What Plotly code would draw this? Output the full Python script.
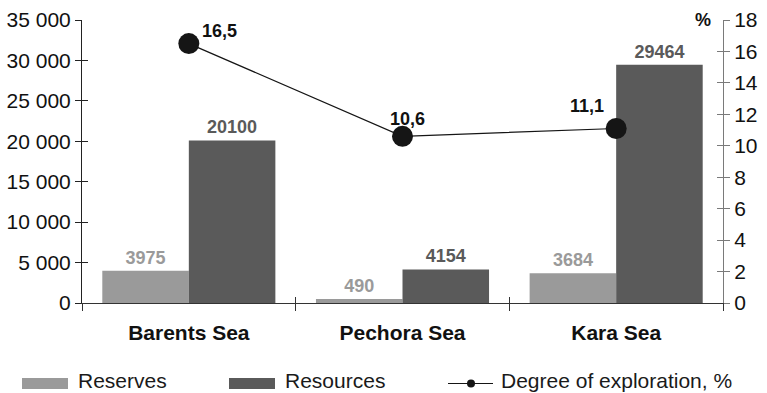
import plotly.graph_objects as go

# Data
categories = ["Barents Sea", "Pechora Sea", "Kara Sea"]
reserves = [3975, 490, 3684]
resources = [20100, 4154, 29464]
exploration_pct = [16.5, 10.6, 11.1]

legend_names = ["Reserves", "Resources", "Degree of exploration, %"]

# Styling
FONT = "Liberation Sans, Arial, Helvetica, sans-serif"
C_RES = "#9a9a9a"
C_RSC = "#5a5a5a"
C_LINE = "#151515"
W, H = 767, 393
ML, MR, MT, MB = 82, 44, 20, 90
PW, PH = W - ML - MR, H - MT - MB
# label offsets (px) for the exploration-degree point labels
PCT_LABEL_SHIFT = [(31, 13), (5, 17), (-29, 22)]


def px_x(px):
    return (px - ML) / PW


def px_y(py):
    return (H - MB - py) / PH


fig = go.Figure()

fig.add_trace(go.Bar(
    x=categories, y=reserves, name=legend_names[0],
    marker=dict(color=C_RES, line=dict(width=0)),
    text=reserves, texttemplate="%{y:d}", textposition="outside",
    textfont=dict(family=FONT, size=18, color=C_RES, weight="bold"),
    cliponaxis=False, showlegend=False,
))
fig.add_trace(go.Bar(
    x=categories, y=resources, name=legend_names[1],
    marker=dict(color=C_RSC, line=dict(width=0)),
    text=resources, texttemplate="%{y:d}", textposition="outside",
    textfont=dict(family=FONT, size=18, color=C_RSC, weight="bold"),
    cliponaxis=False, showlegend=False,
))
fig.add_trace(go.Scatter(
    x=categories, y=exploration_pct, yaxis="y2", name=legend_names[2],
    mode="lines+markers",
    line=dict(color=C_LINE, width=1.2),
    marker=dict(color=C_LINE, size=21),
    cliponaxis=False, showlegend=False,
))

# Point labels with decimal comma
for cat, v, (dx, dy) in zip(categories, exploration_pct, PCT_LABEL_SHIFT):
    fig.add_annotation(
        x=cat, y=v, xref="x", yref="y2", text=f"{v:.1f}".replace(".", ","),
        showarrow=False, xshift=dx, yshift=dy,
        font=dict(family=FONT, size=18, color="#111", weight="bold"),
    )

n = len(categories)
boundaries = [i - 0.5 for i in range(n + 1)]
pct_ticks = list(range(0, 19, 2))
val_ticks = list(range(0, 35001, 5000))

fig.update_layout(
    width=W, height=H, autosize=False,
    margin=dict(l=ML, r=MR, t=MT, b=MB, autoexpand=False),
    paper_bgcolor="white", plot_bgcolor="white",
    separators=", ",
    font=dict(family=FONT, size=21, color="#111"),
    barmode="group", bargap=0.19, bargroupgap=0,
    showlegend=False,
    xaxis=dict(
        type="category", categoryorder="array", categoryarray=categories,
        range=[-0.5, n - 0.5], showline=True, linecolor="#333", linewidth=1,
        ticks="outside", tickson="boundaries", ticklen=7, tickcolor="#333",
        tickfont=dict(family=FONT, size=21, color="#111", weight="bold"),
        ticklabelstandoff=11, showgrid=False, zeroline=False, automargin=False,
    ),
    yaxis=dict(
        range=[0, 35000], tickvals=val_ticks, tickformat=",d",
        showline=True, linecolor="#222", linewidth=1,
        ticks="outside", ticklen=6, tickcolor="#222",
        tickfont=dict(family=FONT, size=21, color="#111"),
        showgrid=False, zeroline=False, automargin=False,
    ),
    yaxis2=dict(
        overlaying="y", side="right", range=[0, 18], tickvals=pct_ticks,
        showline=True, linecolor="#7a7a7a", linewidth=1,
        ticks="outside", ticklen=6, tickcolor="#7a7a7a",
        tickfont=dict(family=FONT, size=21, color="#111"),
        showgrid=False, zeroline=False, automargin=False,
    ),
    # inner halves of the crossing tick marks
    xaxis2=dict(
        overlaying="x", anchor="y", range=[-0.5, n - 0.5],
        tickvals=boundaries, ticks="inside", ticklen=6, tickcolor="#333",
        showticklabels=False, showline=False, showgrid=False, zeroline=False,
        automargin=False,
    ),
    yaxis3=dict(
        overlaying="y", anchor="x", side="left", range=[0, 35000],
        tickvals=val_ticks, ticks="inside", ticklen=6, tickcolor="#222",
        showticklabels=False, showline=False, showgrid=False, zeroline=False,
        automargin=False,
    ),
    yaxis4=dict(
        overlaying="y", anchor="x", side="right", range=[0, 18],
        tickvals=pct_ticks, ticks="inside", ticklen=6, tickcolor="#7a7a7a",
        showticklabels=False, showline=False, showgrid=False, zeroline=False,
        automargin=False,
    ),
)

# Empty helper traces so the tick-only axes are laid out
fig.add_trace(go.Scatter(x=[None], y=[None], xaxis="x2", yaxis="y", showlegend=False, hoverinfo="skip"))
fig.add_trace(go.Scatter(x=[None], y=[None], yaxis="y3", showlegend=False, hoverinfo="skip"))
fig.add_trace(go.Scatter(x=[None], y=[None], yaxis="y4", showlegend=False, hoverinfo="skip"))

# "%" unit label on the right axis
fig.add_annotation(
    x=px_x(703), y=1.0, xref="paper", yref="paper", text="%", showarrow=False,
    font=dict(family=FONT, size=18, color="#111", weight="bold"),
    xanchor="center", yanchor="middle",
)

# Legend row along the bottom
shapes = []
annos = []
leg_y = 383.5
for x0, x1, color, label, tx in [
    (22, 68, C_RES, legend_names[0], 76),
    (229, 275, C_RSC, legend_names[1], 283),
]:
    shapes.append(dict(
        type="rect", xref="paper", yref="paper",
        x0=px_x(x0), x1=px_x(x1), y0=px_y(leg_y + 5.5), y1=px_y(leg_y - 5.5),
        fillcolor=color, line=dict(width=0),
    ))
    annos.append((tx, label))

shapes.append(dict(
    type="line", xref="paper", yref="paper",
    x0=px_x(448), x1=px_x(493), y0=px_y(leg_y), y1=px_y(leg_y),
    line=dict(color=C_LINE, width=1.2),
))
shapes.append(dict(
    type="circle", xref="paper", yref="paper",
    x0=px_x(467), x1=px_x(475), y0=px_y(leg_y + 4), y1=px_y(leg_y - 4),
    fillcolor=C_LINE, line=dict(width=0),
))
annos.append((499, legend_names[2]))

for tx, label in annos:
    fig.add_annotation(
        x=px_x(tx), y=px_y(380.5), xref="paper", yref="paper", text=label,
        showarrow=False, xanchor="left", yanchor="middle",
        font=dict(family=FONT, size=21, color="#1a1a1a"),
    )

fig.update_layout(shapes=shapes)

fig.write_html("out.html")
